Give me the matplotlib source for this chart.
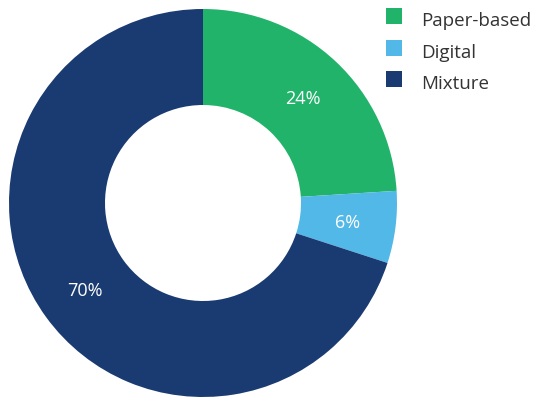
import matplotlib
matplotlib.use("Agg")
import matplotlib.pyplot as plt
from matplotlib.patches import Rectangle

categories = ["Paper-based", "Digital", "Mixture"]
shares = [24, 6, 70]
colors = ["#22b36b", "#52b8e8", "#1a3b71"]

plt.rcParams["font.family"] = ["Open Sans", "DejaVu Sans"]

W, H, DPI = 536, 397, 100
fig = plt.figure(figsize=(W / DPI, H / DPI), dpi=DPI)
ax = fig.add_axes([0, 0, 1, 1])

# donut geometry in pixels
cx, cy, r_out = 203, 203, 194
r_in = 98
width = (r_out - r_in) / r_out

wedges, texts = ax.pie(
    shares,
    colors=colors,
    startangle=90,
    counterclock=False,
    radius=1.0,
    wedgeprops=dict(width=width, linewidth=0),
    labels=[f"{v}%" for v in shares],
    labeldistance=1 - width / 2,
    textprops=dict(color="white", fontsize=13),
)
for t in texts:
    t.set_ha("center")
    t.set_va("center_baseline")

ax.set_xlim(-cx / r_out, (W - cx) / r_out)
ax.set_ylim(-(H - cy) / r_out, cy / r_out)
ax.set_aspect("equal", adjustable="datalim")
ax.axis("off")

# legend: colour squares with labels, laid out in pixel units
sq = 16
sq_left = 386
sq_tops = [8, 40, 71]
text_left = 421
for cat, col, top in zip(categories, colors, sq_tops):
    fig.patches.append(Rectangle(
        (sq_left / W, 1 - (top + sq) / H), sq / W, sq / H,
        transform=fig.transFigure, facecolor=col, edgecolor="none"))
    fig.text(text_left / W, 1 - (top + 18) / H, cat,
             fontsize=13.5, color="#333333", ha="left", va="baseline")

fig.savefig("out.png", dpi=DPI)
